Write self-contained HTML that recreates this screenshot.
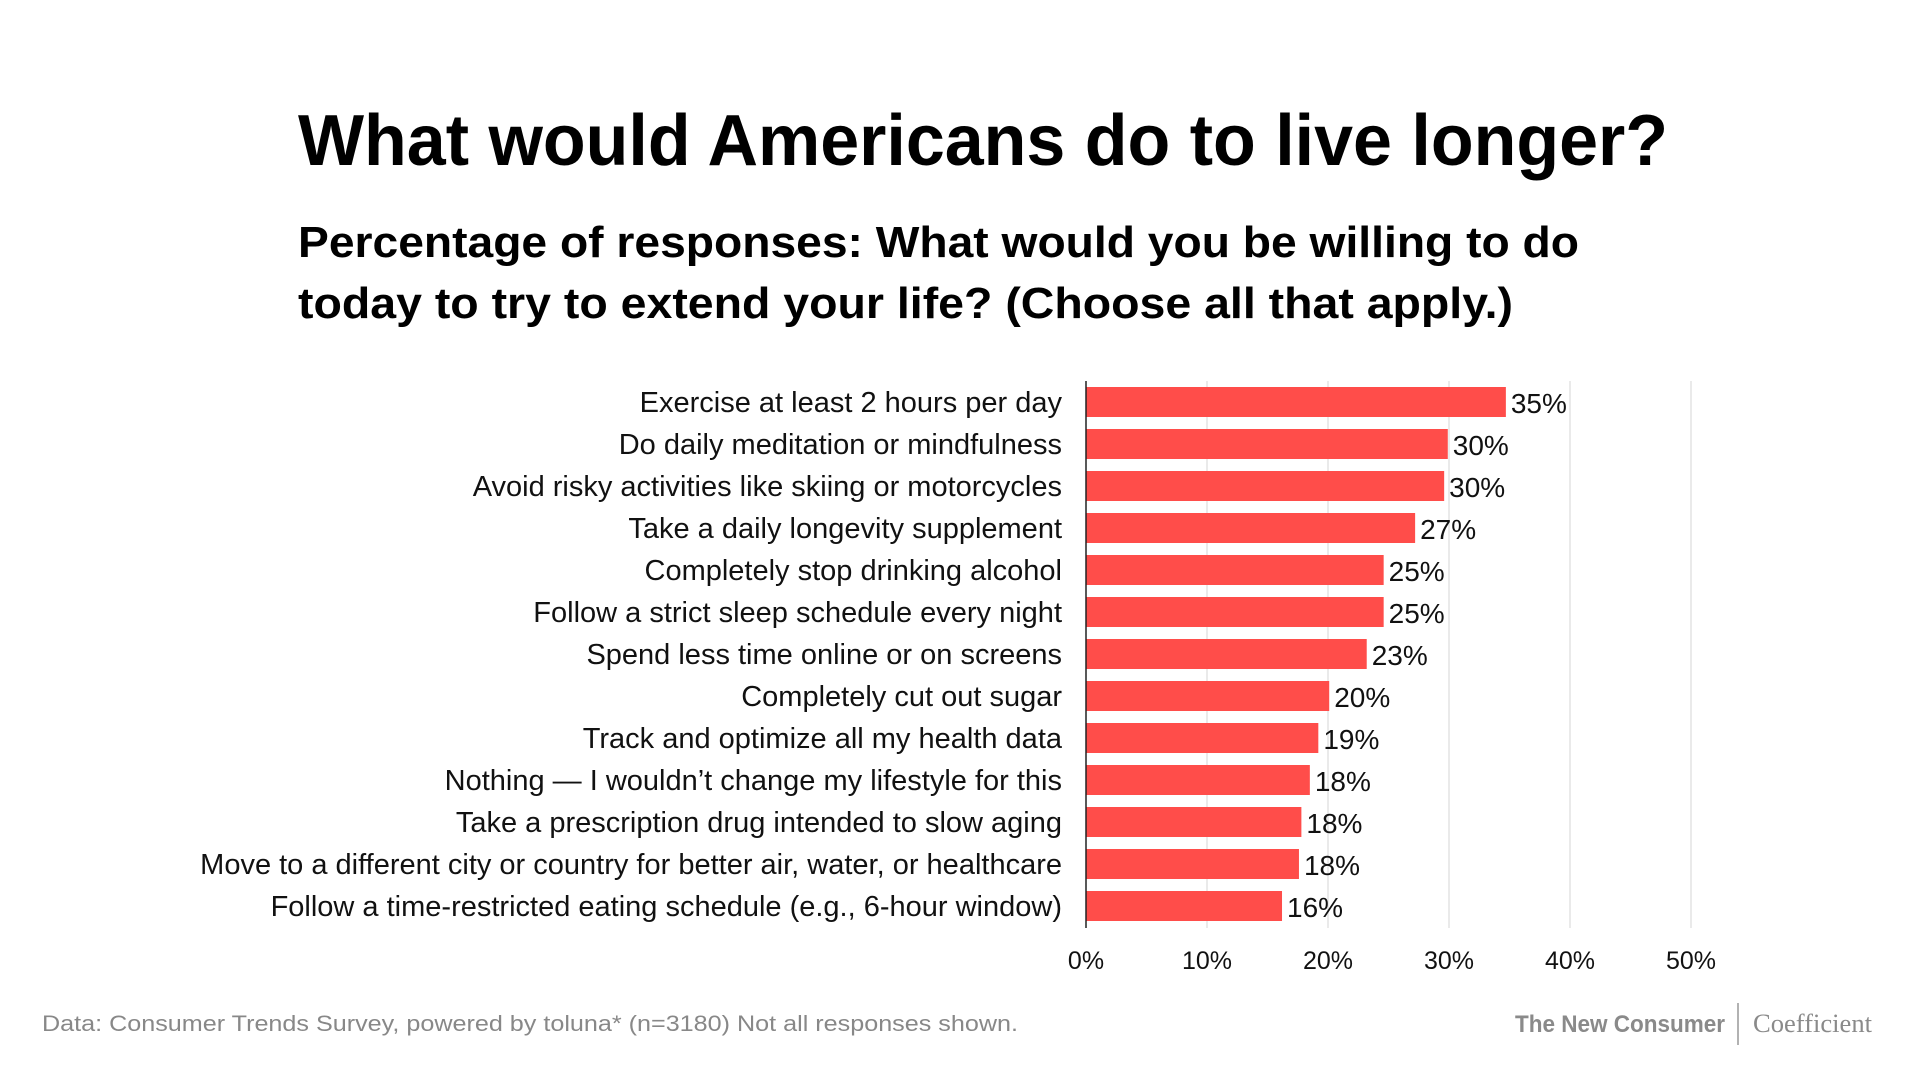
<!DOCTYPE html>
<html><head><meta charset="utf-8"><style>
html,body{margin:0;padding:0;background:#fff;}
svg{display:block;font-family:"Liberation Sans",sans-serif;}
</style></head><body>
<svg id="chart" width="1920" height="1071" viewBox="0 0 1920 1071" xmlns="http://www.w3.org/2000/svg">
<rect width="1920" height="1071" fill="#fff"/>
<text x="298" y="165" font-size="72" font-weight="bold" fill="#000" textLength="1370" lengthAdjust="spacingAndGlyphs">What would Americans do to live longer?</text>
<text x="298" y="257" font-size="44" font-weight="bold" fill="#000" textLength="1281" lengthAdjust="spacingAndGlyphs">Percentage of responses: What would you be willing to do</text>
<text x="298" y="318" font-size="44" font-weight="bold" fill="#000" textLength="1215" lengthAdjust="spacingAndGlyphs">today to try to extend your life? (Choose all that apply.)</text>
<g id="grid"></g>
<g id="bars"></g>
<g id="xaxis"></g>
<text x="42" y="1031" font-size="22" fill="#888" textLength="976" lengthAdjust="spacingAndGlyphs">Data: Consumer Trends Survey, powered by toluna*      (n=3180) Not all responses shown.</text>
<text x="1515" y="1032" font-size="24" font-weight="bold" fill="#8a8a8a" textLength="210" lengthAdjust="spacingAndGlyphs">The New Consumer</text>
<line x1="1738" y1="1003" x2="1738" y2="1045" stroke="#999" stroke-width="1.5"/>
<text x="1753" y="1032" font-size="26" fill="#8a8a8a" font-family="Liberation Serif, serif" textLength="119" lengthAdjust="spacingAndGlyphs">Coefficient</text>
</svg>
<script>
const categories = ["Exercise at least 2 hours per day","Do daily meditation or mindfulness","Avoid risky activities like skiing or motorcycles","Take a daily longevity supplement","Completely stop drinking alcohol","Follow a strict sleep schedule every night","Spend less time online or on screens","Completely cut out sugar","Track and optimize all my health data","Nothing \u2014 I wouldn\u2019t change my lifestyle for this","Take a prescription drug intended to slow aging","Move to a different city or country for better air, water, or healthcare","Follow a time-restricted eating schedule (e.g., 6-hour window)"];
const values = [34.7,29.9,29.6,27.2,24.6,24.6,23.2,20.1,19.2,18.5,17.8,17.6,16.2];
const valueLabels = ["35%","30%","30%","27%","25%","25%","23%","20%","19%","18%","18%","18%","16%"];
const ticks = [0,10,20,30,40,50];
const tickLabels = ["0%","10%","20%","30%","40%","50%"];

const NS = "http://www.w3.org/2000/svg";
const x0 = 1086, pxPer = 12.1;
const x = v => x0 + v * pxPer;
const yTop = 381, step = 42.0, barH = 30, firstCenter = 402;
const y = i => firstCenter + i * step;
function mk(tag, attrs, parent){const e=document.createElementNS(NS,tag);for(const k in attrs)e.setAttribute(k,attrs[k]);parent.appendChild(e);return e;}
const grid=document.getElementById('grid'), bars=document.getElementById('bars'), xa=document.getElementById('xaxis');
ticks.forEach((t,i)=>{
  if(i>0){
    const l=mk('line',{x1:x(t),x2:x(t),y1:yTop,y2:928,stroke:'#e3e3e3','stroke-width':1.5},grid);
    
    
  }
  const tl=mk('text',{x:x(t),y:969,'font-size':25,'text-anchor':'middle',fill:'#111'},xa);
  tl.textContent=tickLabels[i];
  
  
});
categories.forEach((c,i)=>{
  const cy=y(i);
  const lab=mk('text',{x:1062,y:cy+10,'font-size':29,'text-anchor':'end',fill:'#111'},bars);
  lab.textContent=c;
  
  
  const r=mk('rect',{x:x(0),y:cy-barH/2,width:x(values[i])-x(0),height:barH,fill:'#ff4d4a'},bars);
  
  
  const vl=mk('text',{x:x(values[i])+5,y:cy+11,'font-size':28,fill:'#111'},bars);
  vl.textContent=valueLabels[i];
  
  
});
const ax=mk('line',{x1:x0,x2:x0,y1:yTop,y2:928,stroke:'#222','stroke-width':1.5},xa);


</script>
</body></html>
